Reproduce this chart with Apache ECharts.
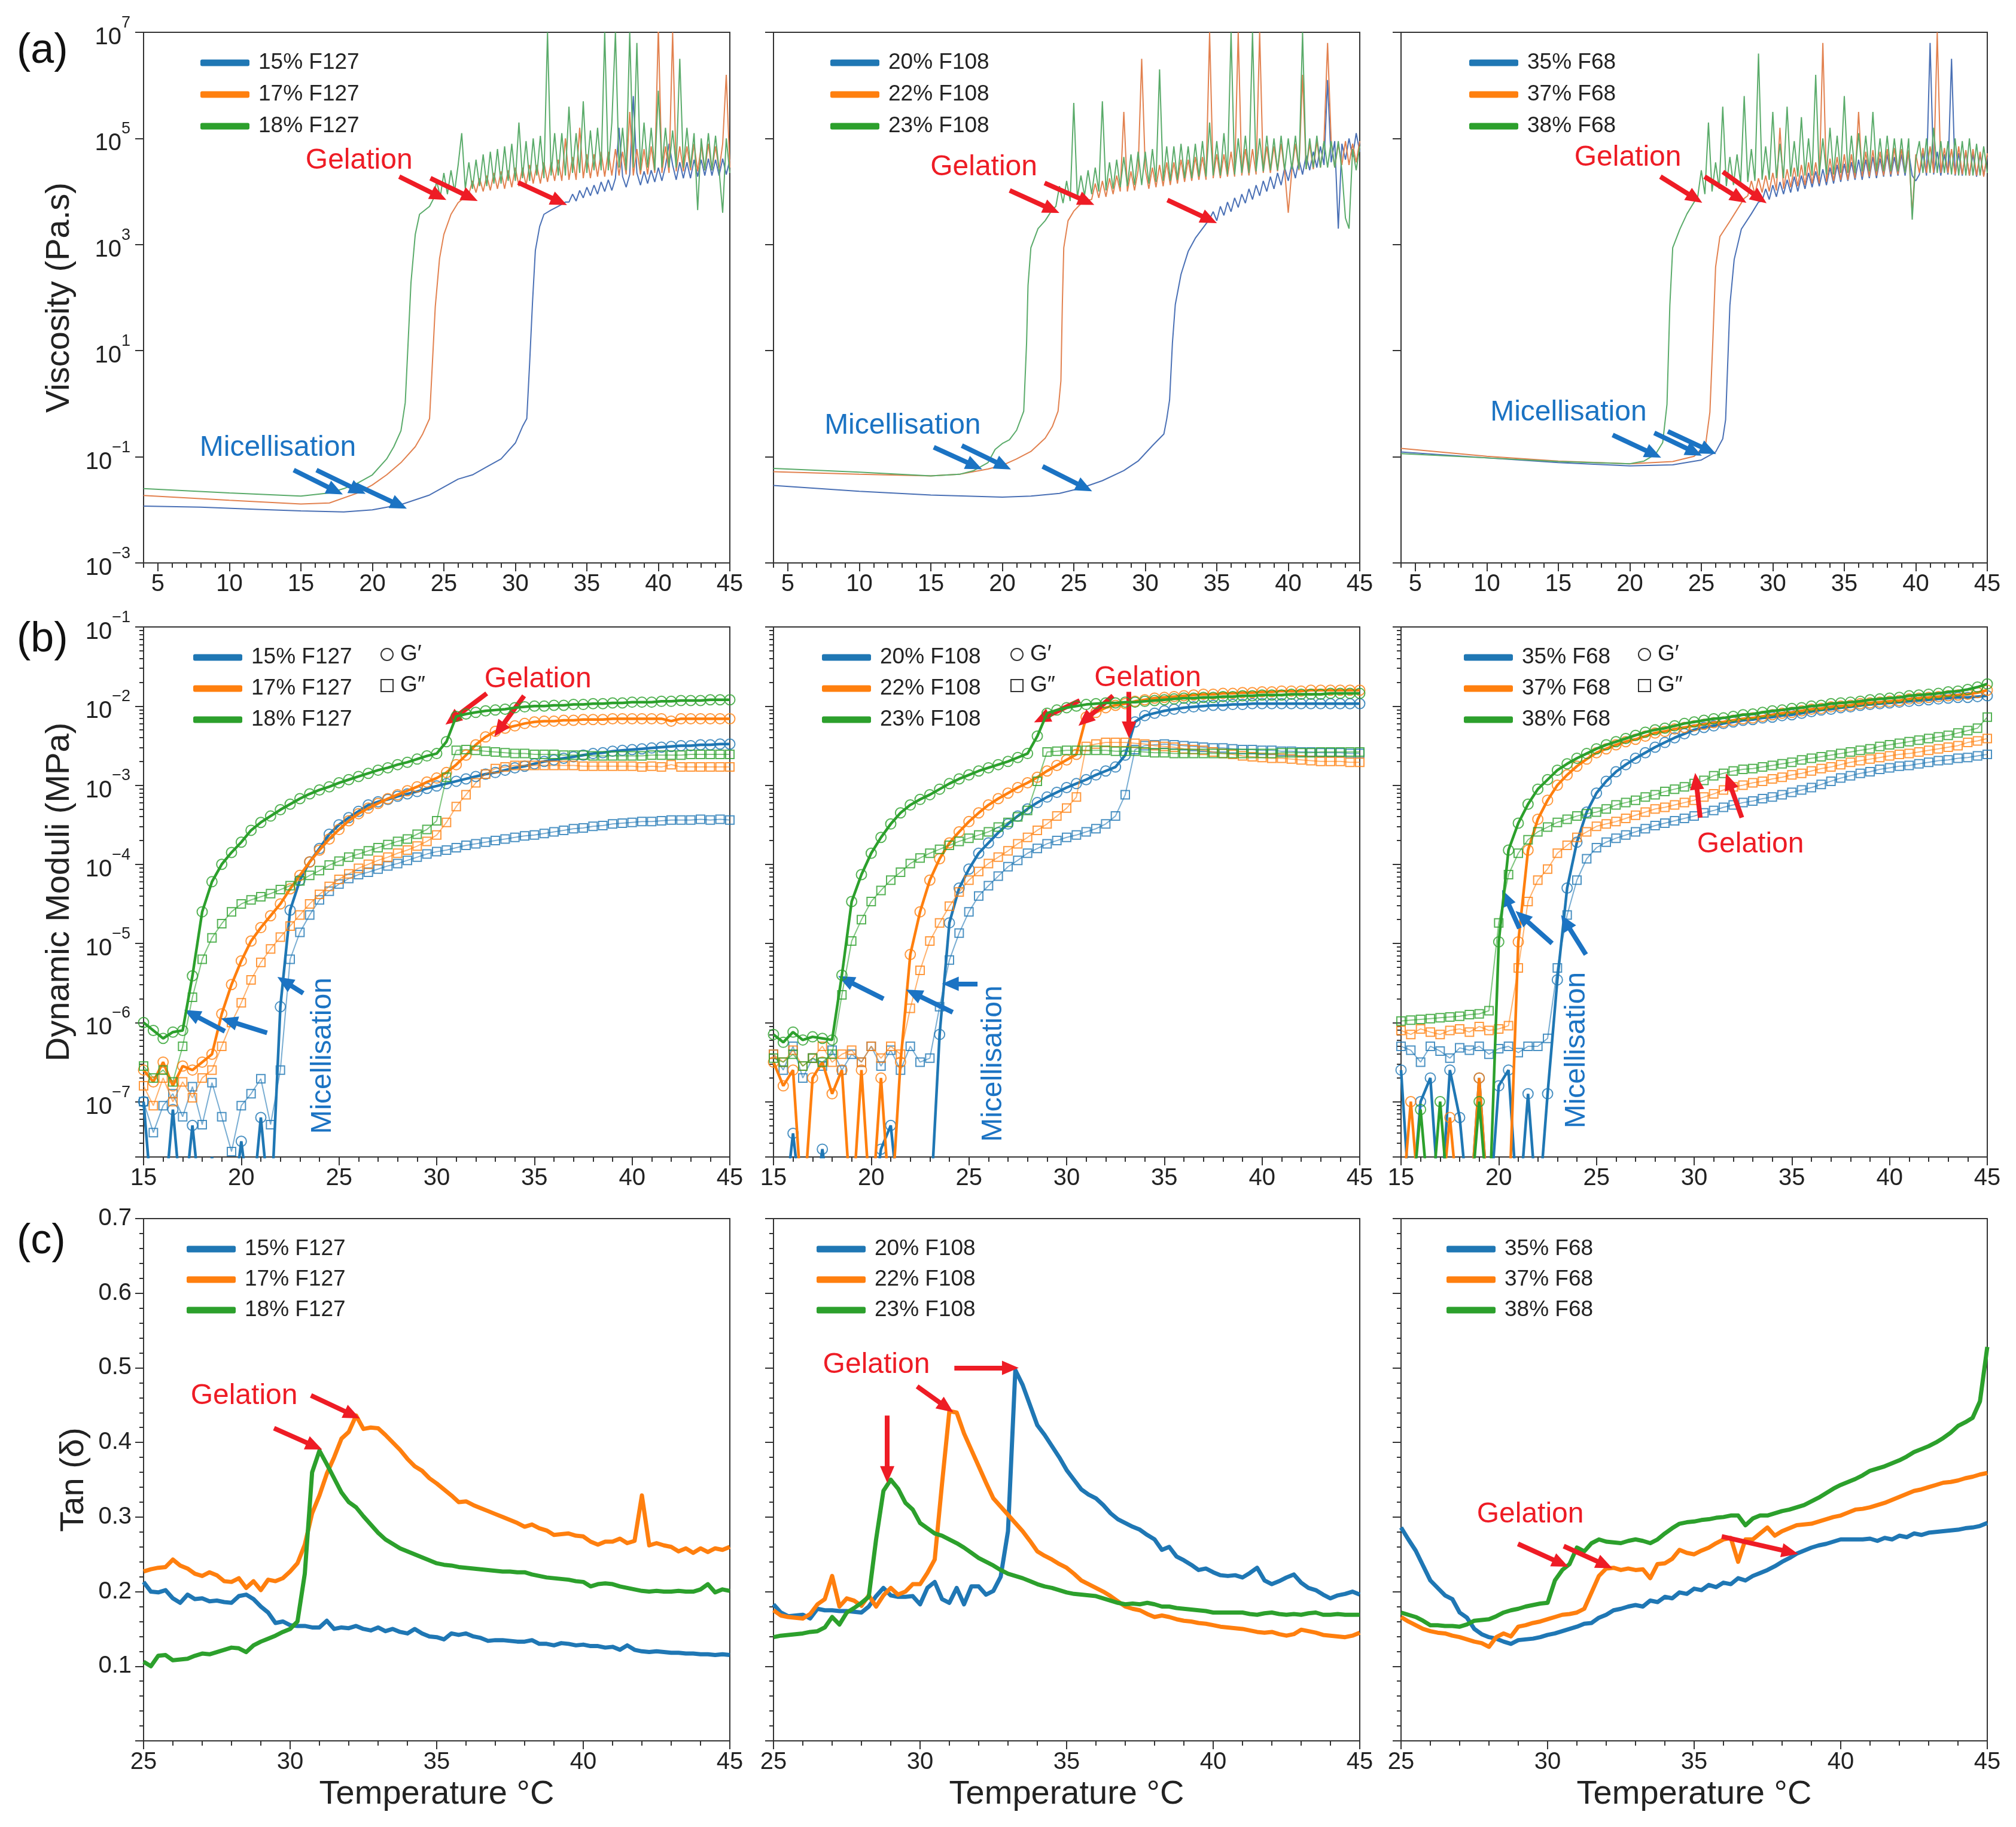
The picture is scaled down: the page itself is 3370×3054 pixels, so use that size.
<!DOCTYPE html>
<html lang="en">
<head>
<meta charset="UTF-8"/>
<script src="https://cdn.jsdelivr.net/npm/echarts@6.0.0/dist/echarts.min.js"></script>
<title>Pluronic gels: viscosity, moduli, tan delta</title>
<style>html,body{margin:0;padding:0;background:#fff;}</style>
</head>
<body>
<div id="main" style="width:3370px;height:3054px;"></div>
<script type="text/javascript">
// ---------- (a) viscosity, values are log10(Pa.s) ----------
// smooth part as [T, log10] pairs, then the noisy gel plateau, one value every 0.25 °C after the last pair
var vis15F127 = [[4,-1.93],[8,-1.95],[12,-1.99],[15,-2.02],[18,-2.04],[20,-2.0],[22,-1.9],[24,-1.72],[26,-1.42],[27,-1.34],[28,-1.19],[29,-1.04],[30,-0.74],[30.5,-0.43],[30.8,-0.28],[31,0.77],[31.2,1.91],[31.4,2.89],[31.7,3.34],[32,3.57],[32.5,3.65],[33,3.72],[33.5,3.8]];
var vis15F127Gel = [3.8,3.95,3.82,4.02,3.88,4.08,3.92,4.12,3.95,4.18, 4.0,4.22,4.02,4.25,5.2,4.28,4.08,4.32,5.8,4.35, 4.12,4.38,4.15,4.4,4.18,4.45,4.2,4.48,4.9,4.5, 4.22,4.55,4.25,4.55,4.25,4.6,4.28,4.6,4.3,4.62, 4.3,4.6,4.3,4.62,4.32,4.6];
var vis17F127 = [[4,-1.73],[10,-1.82],[15,-1.89],[17,-1.87],[19,-1.68],[20,-1.53],[21,-1.34],[22,-1.11],[23,-0.81],[23.5,-0.58],[24,-0.28],[24.2,0.77],[24.4,1.83],[24.7,2.74],[25,3.19],[25.5,3.57],[26,3.79],[26.5,3.9]];
var vis17F127Gel = [3.95,4.2,3.98,4.25,4.0,4.3,4.02,4.35,4.05,4.38, 4.05,4.4,4.08,4.45,4.1,4.45,4.12,4.5,4.15,4.5, 4.15,4.55,4.18,4.55,4.2,4.6,4.2,5.0,4.22,4.65, 4.22,5.2,4.25,4.7,4.25,4.7,4.28,4.75,4.28,4.75, 4.3,4.8,4.3,4.75,4.32,5.5,4.3,4.8,4.32,4.8, 4.32,4.85,4.35,7.1,4.35,4.85,4.35,7.0,4.38,4.85, 4.38,4.85,4.4,4.9,4.38,4.85,4.4,4.9,4.4,4.85, 4.4,4.9,6.2,4.45];
var vis18F127 = [[4,-1.6],[10,-1.68],[15,-1.74],[17,-1.68],[18,-1.6],[19,-1.49],[20,-1.34],[21,-1.04],[21.5,-0.81],[22,-0.51],[22.3,0.02],[22.5,1.15],[22.7,2.28],[23,3.19],[23.3,3.57],[24,3.72]];
var vis18F127Gel = [3.85,4.2,3.9,4.35,3.95,4.4,4.0,4.5,5.1,4.05, 4.55,4.05,4.6,4.1,4.7,4.1,4.75,4.15,4.8,4.15, 4.85,4.2,4.9,4.2,5.3,4.25,4.95,4.2,5.0,4.3, 5.05,4.25,7.0,4.3,5.1,4.3,5.1,4.3,5.6,4.35, 5.1,4.35,5.7,4.35,5.15,4.4,5.2,4.4,7.0,4.4, 5.3,7.0,4.45,5.2,4.4,7.0,4.45,6.8,4.4,5.3, 4.45,5.2,4.4,5.9,4.45,5.2,4.45,5.15,4.45,6.5, 4.45,5.2,4.45,5.1,3.65,5.0,4.4,5.1,4.4,5.05, 4.4,3.6,5.0,4.35];

var vis20F108 = [[4,-1.54],[10,-1.65],[15,-1.72],[20,-1.76],[22,-1.74],[24,-1.69],[25.5,-1.59],[27,-1.45],[28.5,-1.26],[29.5,-1.08],[30.5,-0.79],[31.3,-0.57],[31.5,-0.29],[31.7,0.07],[31.9,1.15],[32.1,1.87],[32.5,2.44],[33,2.87],[33.5,3.12],[34,3.3],[34.5,3.48]];
var vis20F108Gel = [3.62,3.45,3.72,3.55,3.8,3.62,3.88,3.7,3.95,3.78, 4.05,3.85,4.12,3.92,4.2,4.0,4.28,4.05,4.35,4.12, 4.45,4.2,4.52,4.25,4.6,4.32,4.68,4.4,4.75,4.45, 4.85,4.5,6.1,4.55,4.95,3.3,4.9,4.6,5.0,4.65, 5.1,4.75];
var vis22F108 = [[4,-1.28],[10,-1.33],[15,-1.36],[17,-1.33],[19,-1.23],[20,-1.16],[21,-1.04],[22,-0.9],[23,-0.65],[23.5,-0.43],[23.9,-0.14],[24.1,0.43],[24.2,1.87],[24.3,2.94],[24.6,3.45],[25,3.63],[25.5,3.77],[26,3.84]];
var vis22F108Gel = [3.85,4.15,3.88,4.2,3.9,4.25,3.95,4.3,4.0,5.5, 4.0,4.38,4.02,4.4,6.5,4.42,4.05,4.45,4.08,4.5, 4.1,4.55,4.12,4.55,4.15,4.6,4.18,4.6,4.2,4.65, 4.22,4.65,4.22,7.0,4.25,4.7,4.25,4.7,4.28,4.75, 4.28,7.0,4.3,4.8,4.3,4.8,4.32,7.0,4.35,4.85, 4.35,4.85,4.38,4.9,4.38,3.6,4.4,4.9,4.4,6.2, 4.42,4.9,4.42,4.95,4.45,4.95,6.8,4.95,4.45,4.9, 4.5,4.95,4.5,4.9,4.55,4.95];
var vis23F108 = [[4,-1.22],[10,-1.29],[15,-1.36],[17,-1.33],[18,-1.26],[19,-1.11],[19.5,-0.86],[20,-0.75],[20.5,-0.68],[21,-0.5],[21.5,-0.14],[21.7,1.15],[21.8,2.23],[22,2.94],[22.5,3.3],[23,3.45],[23.5,3.66]];
var vis23F108Gel = [3.72,4.1,3.78,4.2,3.82,5.67,3.88,4.3,3.92,4.4, 3.95,4.45,4.0,5.7,4.02,4.55,4.05,4.6,4.08,4.65, 4.1,4.7,4.12,4.75,4.12,4.75,4.15,4.8,4.18,6.3, 4.2,4.85,4.2,4.85,4.22,4.9,4.25,4.85,4.25,4.9, 4.28,4.95,4.28,5.3,4.3,4.95,4.3,5.1,4.32,7.0, 4.32,5.0,4.35,5.05,4.35,7.0,4.38,5.0,4.38,5.05, 4.4,5.0,4.4,5.05,4.4,5.0,4.42,5.05,4.42,7.0, 4.42,5.0,4.45,5.05,4.45,4.95,4.45,4.95,4.45,4.95, 4.4,3.5,3.3,4.8,4.4,4.85];

var vis35F68 = [[4,-0.91],[10,-1.02],[15,-1.11],[20,-1.17],[23,-1.15],[25,-1.06],[26,-0.91],[26.5,-0.66],[26.7,-0.3],[26.8,0.42],[27,1.86],[27.3,2.72],[27.8,3.29],[28.5,3.58],[29,3.8]];
var vis35F68Gel = [3.82,4.05,3.85,4.12,3.9,4.18,3.95,4.22,3.98,4.28, 4.0,4.3,4.05,4.35,4.08,4.38,4.1,4.42,4.12,4.45, 4.15,4.5,4.18,4.52,4.2,4.55,4.22,4.6,4.22,4.6, 4.25,4.65,4.25,4.62,4.28,4.7,4.28,4.65,4.3,4.7, 4.3,4.75,4.3,4.2,4.32,4.72,4.3,6.8,4.32,4.75, 4.3,4.7,4.32,6.5,4.3,4.72,4.3,4.75,4.3,4.7, 4.28,4.7,4.3,4.65];
var vis37F68 = [[4,-0.84],[10,-0.99],[15,-1.08],[20,-1.13],[23,-1.09],[24.5,-0.99],[25.3,-0.77],[25.6,-0.16],[25.8,1.14],[26,2.58],[26.3,3.15],[27,3.44],[28,3.87]];
var vis37F68Gel = [3.92,4.2,3.95,4.25,3.98,4.3,4.0,4.35,4.02,5.2, 4.05,4.42,4.08,4.45,4.1,4.5,4.12,4.55,4.15,4.55, 4.15,6.8,4.18,4.62,4.2,4.65,4.22,4.7,4.22,4.7, 4.25,5.5,4.28,4.75,4.28,4.78,4.3,4.75,4.3,4.8, 4.32,4.82,4.32,4.8,4.35,4.78,3.58,4.7,4.35,4.82, 4.35,4.85,4.35,7.0,4.35,4.82,4.35,4.8,4.32,4.85, 4.32,4.78,4.3,4.8,4.3,4.75,4.28,4.72];
var vis38F68 = [[4,-0.94],[10,-1.02],[15,-1.09],[20,-1.13],[21,-1.08],[21.8,-0.95],[22.3,-0.73],[22.6,-0.01],[22.8,1.86],[23,2.94],[23.5,3.29],[24,3.58],[24.5,3.8]];
var vis38F68Gel = [3.9,4.4,3.95,5.3,4.0,4.55,4.05,5.6,4.1,4.65, 4.12,4.7,4.15,5.8,4.18,4.8,4.2,6.6,4.22,4.85, 4.22,5.5,4.25,4.9,4.25,5.6,4.28,4.95,4.28,5.4, 4.3,5.0,4.3,6.2,4.3,5.0,4.32,5.2,4.32,5.05, 4.35,5.8,4.35,5.05,4.35,5.1,4.38,5.05,4.38,5.5, 4.38,5.0,4.38,5.05,4.38,5.0,4.38,5.0,4.35,5.0, 3.47,4.6,4.95,4.35,5.0,4.35,5.2,4.35,4.95,4.35, 4.95,4.32,5.0,4.3,4.95,4.3,5.0,4.3,4.9,4.3, 4.85,4.35];

// ---------- (b) dynamic moduli, values are log10(MPa), sampled at tempB ----------
var tempB = [15,15.5,16,16.5,17,17.5,18,18.5,19,19.5,20,20.5,21,21.5,22,22.5,23,23.5,24,24.5,25,25.5,26,26.5,27,27.5,28,28.5,29,29.5,30,30.5,31,31.5,32,32.5,33,33.5,34,34.5,35,35.5,36,36.5,37,37.5,38,38.5,39,39.5,40,40.5,41,41.5,42,42.5,43,43.5,44,44.5,45];
var gp15F127 = [-7.0,-8.5,-8.5,-7.1,-8.5,-7.3,-8.5,-7.7, -8.5,-8.5,-7.5,-8.5,-7.2,-8.5,-5.8,-4.58,-4.2,-3.97, -3.8,-3.62,-3.5,-3.41,-3.33,-3.25,-3.21,-3.18,-3.14,-3.11, -3.08,-3.04,-3.01,-2.98,-2.95,-2.92,-2.89,-2.86,-2.84,-2.81, -2.78,-2.76,-2.73,-2.7,-2.68,-2.66,-2.64,-2.62,-2.6,-2.59, -2.57,-2.56,-2.55,-2.54,-2.53,-2.52,-2.51,-2.5,-2.5,-2.49, -2.49,-2.48,-2.48];
var gpp15F127 = [-7.0,-7.39,-7.05,-6.9,-7.19,-6.81,-7.29,-6.76, -7.19,-7.63,-7.05,-6.9,-6.71,-7.29,-6.6,-5.2,-4.86,-4.64, -4.45,-4.34,-4.25,-4.18,-4.13,-4.1,-4.06,-4.02,-3.99,-3.95, -3.91,-3.87,-3.84,-3.82,-3.79,-3.76,-3.74,-3.72,-3.7,-3.68, -3.66,-3.64,-3.63,-3.61,-3.59,-3.57,-3.55,-3.54,-3.52,-3.51, -3.49,-3.48,-3.47,-3.46,-3.46,-3.45,-3.44,-3.44,-3.44,-3.43, -3.44,-3.43,-3.44];
var gp17F127 = [-6.6,-6.75,-6.5,-6.8,-6.55,-6.6,-6.5,-6.4, -5.89,-5.52,-5.22,-4.97,-4.8,-4.65,-4.5,-4.31,-4.14,-3.97, -3.82,-3.68,-3.56,-3.45,-3.36,-3.29,-3.23,-3.17,-3.12,-3.07, -3.02,-2.96,-2.91,-2.84,-2.74,-2.62,-2.49,-2.39,-2.32,-2.28, -2.25,-2.22,-2.2,-2.19,-2.19,-2.18,-2.18,-2.17,-2.17,-2.17, -2.16,-2.16,-2.16,-2.16,-2.16,-2.16,-2.19,-2.16,-2.16,-2.16, -2.16,-2.16,-2.16];
var gpp17F127 = [-6.8,-7.05,-6.7,-7.0,-6.75,-6.95,-6.7,-6.6, -6.3,-6.0,-5.75,-5.46,-5.24,-5.07,-4.92,-4.78,-4.64,-4.5, -4.38,-4.28,-4.19,-4.12,-4.05,-4.0,-3.95,-3.91,-3.86,-3.82, -3.77,-3.71,-3.63,-3.47,-3.27,-3.12,-2.97,-2.86,-2.79,-2.77, -2.75,-2.75,-2.75,-2.75,-2.75,-2.75,-2.75,-2.76,-2.76,-2.76, -2.76,-2.76,-2.76,-2.77,-2.76,-2.77,-2.74,-2.77,-2.77,-2.77, -2.77,-2.77,-2.77];
var gp18F127 = [-6.0,-6.1,-6.2,-6.12,-6.1,-5.41,-4.6,-4.22, -4.0,-3.85,-3.72,-3.57,-3.47,-3.39,-3.31,-3.24,-3.17,-3.11, -3.06,-3.02,-2.97,-2.93,-2.89,-2.85,-2.81,-2.78,-2.74,-2.71, -2.67,-2.63,-2.6,-2.45,-2.13,-2.1,-2.08,-2.06,-2.05,-2.04, -2.02,-2.01,-2.0,-2.0,-1.99,-1.99,-1.98,-1.98,-1.97,-1.97, -1.96,-1.96,-1.95,-1.95,-1.95,-1.94,-1.94,-1.93,-1.93,-1.93, -1.92,-1.92,-1.92];
var gpp18F127 = [-6.55,-6.7,-6.6,-6.75,-6.3,-5.68,-5.2,-4.93, -4.75,-4.6,-4.5,-4.45,-4.41,-4.37,-4.32,-4.27,-4.21,-4.14, -4.08,-4.01,-3.96,-3.91,-3.87,-3.83,-3.79,-3.75,-3.71,-3.68, -3.62,-3.56,-3.45,-2.9,-2.56,-2.55,-2.56,-2.57,-2.58,-2.59, -2.6,-2.6,-2.61,-2.61,-2.61,-2.62,-2.62,-2.62,-2.63,-2.63, -2.63,-2.63,-2.63,-2.63,-2.62,-2.62,-2.62,-2.62,-2.61,-2.61, -2.61,-2.61,-2.61];

var gp20F108 = [-8.5,-8.5,-7.4,-8.5,-8.5,-7.6,-8.5,-8.5, -8.5,-8.5,-8.5,-7.6,-7.3,-8.5,-8.5,-8.5,-8.5,-6.15, -4.74,-4.3,-4.06,-3.86,-3.73,-3.6,-3.49,-3.39,-3.3,-3.22, -3.15,-3.09,-3.03,-2.98,-2.93,-2.87,-2.82,-2.77,-2.62,-2.2, -2.12,-2.09,-2.06,-2.04,-2.02,-2.01,-2.0,-1.99,-1.99,-1.98, -1.98,-1.97,-1.97,-1.97,-1.97,-1.97,-1.97,-1.97,-1.97,-1.97, -1.97,-1.97,-1.97];
var gpp20F108 = [-6.4,-6.6,-6.3,-6.7,-6.45,-6.55,-6.35,-6.6, -6.4,-6.5,-6.3,-6.55,-6.35,-6.6,-6.3,-6.5,-6.45,-5.8, -5.21,-4.87,-4.6,-4.4,-4.27,-4.15,-4.03,-3.95,-3.86,-3.8, -3.74,-3.7,-3.66,-3.63,-3.59,-3.55,-3.49,-3.39,-3.12,-2.55, -2.5,-2.49,-2.48,-2.49,-2.5,-2.51,-2.52,-2.53,-2.53,-2.54, -2.55,-2.55,-2.56,-2.56,-2.57,-2.57,-2.58,-2.58,-2.59,-2.59, -2.59,-2.6,-2.6];
var gp22F108 = [-6.5,-6.8,-6.6,-8.5,-6.7,-6.5,-6.9,-6.6, -8.5,-6.6,-8.5,-6.7,-8.5,-6.5,-5.14,-4.6,-4.2,-3.93, -3.73,-3.59,-3.46,-3.35,-3.25,-3.17,-3.1,-3.03,-2.97,-2.9, -2.82,-2.75,-2.68,-2.61,-2.14,-2.08,-2.02,-1.99,-1.97,-1.94, -1.92,-1.9,-1.89,-1.88,-1.87,-1.86,-1.85,-1.85,-1.84,-1.84, -1.83,-1.83,-1.82,-1.82,-1.81,-1.81,-1.81,-1.8,-1.8,-1.8, -1.8,-1.8,-1.8];
var gpp22F108 = [-6.4,-6.5,-6.35,-6.55,-6.45,-6.3,-6.5,-6.4, -6.35,-6.5,-6.3,-6.45,-6.3,-6.4,-5.82,-5.34,-4.97,-4.74, -4.53,-4.35,-4.2,-4.09,-3.99,-3.91,-3.83,-3.74,-3.66,-3.57, -3.49,-3.39,-3.29,-3.15,-2.51,-2.48,-2.46,-2.46,-2.46,-2.47, -2.48,-2.5,-2.51,-2.52,-2.54,-2.55,-2.56,-2.58,-2.6,-2.61, -2.63,-2.64,-2.65,-2.66,-2.66,-2.67,-2.68,-2.69,-2.7,-2.7, -2.7,-2.71,-2.71];
var gp23F108 = [-6.15,-6.25,-6.12,-6.22,-6.18,-6.2,-6.22,-5.4, -4.47,-4.13,-3.86,-3.66,-3.49,-3.35,-3.25,-3.18,-3.12,-3.05, -2.98,-2.92,-2.87,-2.82,-2.78,-2.74,-2.7,-2.65,-2.6,-2.38, -2.09,-2.05,-2.02,-2.0,-1.98,-1.97,-1.96,-1.96,-1.95,-1.95, -1.94,-1.93,-1.92,-1.91,-1.9,-1.9,-1.89,-1.89,-1.88,-1.88, -1.87,-1.87,-1.86,-1.86,-1.86,-1.85,-1.85,-1.85,-1.85,-1.84, -1.84,-1.84,-1.84];
var gpp23F108 = [-6.45,-6.5,-6.4,-6.55,-6.45,-6.5,-6.4,-5.65, -4.97,-4.7,-4.47,-4.33,-4.2,-4.1,-3.99,-3.92,-3.86,-3.81, -3.76,-3.71,-3.67,-3.63,-3.59,-3.53,-3.47,-3.4,-3.32,-2.95, -2.58,-2.57,-2.56,-2.56,-2.56,-2.56,-2.56,-2.57,-2.57,-2.57, -2.58,-2.59,-2.59,-2.6,-2.6,-2.6,-2.6,-2.6,-2.6,-2.6, -2.6,-2.6,-2.6,-2.6,-2.59,-2.59,-2.59,-2.59,-2.58,-2.58, -2.58,-2.58,-2.58];

var gp35F68 = [-6.6,-8.5,-7.0,-6.7,-8.5,-6.6,-7.2,-8.5, -6.7,-8.5,-6.8,-6.6,-8.5,-6.9,-8.5,-6.9,-5.46,-4.3, -3.72,-3.34,-3.1,-2.95,-2.83,-2.74,-2.66,-2.59,-2.52,-2.46, -2.4,-2.35,-2.3,-2.27,-2.25,-2.22,-2.2,-2.18,-2.17,-2.15, -2.14,-2.12,-2.11,-2.09,-2.07,-2.05,-2.04,-2.02,-2.01,-1.99, -1.98,-1.97,-1.96,-1.95,-1.94,-1.93,-1.92,-1.91,-1.9,-1.89, -1.89,-1.88,-1.87];
var gpp35F68 = [-6.3,-6.35,-6.5,-6.3,-6.36,-6.45,-6.32,-6.35, -6.3,-6.4,-6.33,-6.3,-6.38,-6.3,-6.3,-6.2,-5.31,-4.64, -4.2,-3.93,-3.79,-3.72,-3.67,-3.63,-3.59,-3.55,-3.51,-3.48, -3.45,-3.42,-3.39,-3.35,-3.32,-3.28,-3.25,-3.22,-3.2,-3.17, -3.15,-3.12,-3.09,-3.06,-3.03,-2.99,-2.95,-2.91,-2.88,-2.85, -2.83,-2.8,-2.78,-2.76,-2.75,-2.73,-2.71,-2.69,-2.68,-2.66, -2.65,-2.63,-2.61];
var gp37F68 = [-8.5,-7.0,-8.5,-8.5,-8.5,-7.2,-8.5,-8.5, -6.7,-8.5,-8.5,-8.5,-4.98,-3.82,-3.43,-3.19,-3.0,-2.87, -2.76,-2.67,-2.59,-2.54,-2.49,-2.45,-2.42,-2.38,-2.34,-2.32, -2.29,-2.27,-2.25,-2.23,-2.21,-2.2,-2.18,-2.16,-2.15,-2.13, -2.11,-2.09,-2.08,-2.06,-2.04,-2.03,-2.01,-2.0,-1.99,-1.97, -1.96,-1.95,-1.94,-1.93,-1.91,-1.9,-1.89,-1.88,-1.87,-1.86, -1.85,-1.83,-1.8];
var gpp37F68 = [-6.1,-6.15,-6.08,-6.12,-6.15,-6.1,-6.08,-6.12, -6.05,-6.1,-6.08,-6.04,-5.31,-4.47,-4.2,-4.06,-3.86,-3.76, -3.66,-3.59,-3.52,-3.49,-3.46,-3.42,-3.38,-3.34,-3.3,-3.28, -3.25,-3.22,-3.19,-3.15,-3.11,-3.06,-3.02,-3.0,-2.97,-2.95, -2.92,-2.9,-2.87,-2.85,-2.82,-2.79,-2.77,-2.74,-2.71,-2.69, -2.67,-2.65,-2.63,-2.61,-2.6,-2.58,-2.56,-2.54,-2.52,-2.5, -2.46,-2.44,-2.41];
var gp38F68 = [-8.5,-8.5,-7.1,-8.5,-7.0,-8.5,-8.5,-8.5, -7.0,-8.5,-4.98,-3.82,-3.48,-3.24,-3.05,-2.93,-2.81,-2.73, -2.66,-2.6,-2.54,-2.49,-2.45,-2.41,-2.37,-2.33,-2.3,-2.28, -2.25,-2.22,-2.2,-2.18,-2.16,-2.15,-2.13,-2.11,-2.1,-2.08, -2.06,-2.05,-2.03,-2.02,-2.0,-1.99,-1.97,-1.96,-1.95,-1.94, -1.92,-1.91,-1.9,-1.89,-1.87,-1.86,-1.85,-1.84,-1.82,-1.81, -1.79,-1.76,-1.72];
var gpp38F68 = [-5.98,-5.97,-5.96,-5.95,-5.94,-5.93,-5.92,-5.9, -5.89,-5.85,-4.74,-4.13,-3.86,-3.69,-3.59,-3.53,-3.47,-3.43, -3.39,-3.36,-3.34,-3.3,-3.25,-3.22,-3.19,-3.15,-3.12,-3.08, -3.05,-3.02,-2.98,-2.94,-2.88,-2.85,-2.82,-2.8,-2.79,-2.77, -2.75,-2.73,-2.71,-2.68,-2.66,-2.64,-2.62,-2.6,-2.58,-2.56, -2.54,-2.51,-2.49,-2.47,-2.45,-2.43,-2.41,-2.39,-2.37,-2.34, -2.31,-2.28,-2.14];

// ---------- (c) tan(delta), sampled at tempC ----------
var tempC = [25,25.25,25.5,25.75,26,26.25,26.5,26.75,27,27.25,27.5,27.75,28,28.25,28.5,28.75,29,29.25,29.5,29.75,30,30.25,30.5,30.75,31,31.25,31.5,31.75,32,32.25,32.5,32.75,33,33.25,33.5,33.75,34,34.25,34.5,34.75,35,35.25,35.5,35.75,36,36.25,36.5,36.75,37,37.25,37.5,37.75,38,38.25,38.5,38.75,39,39.25,39.5,39.75,40,40.25,40.5,40.75,41,41.25,41.5,41.75,42,42.25,42.5,42.75,43,43.25,43.5,43.75,44,44.25,44.5,44.75,45];
var tan15F127 = [.213,.2,.199,.202,.191,.185,.196,.19, .191,.187,.188,.186,.185,.194,.196,.19, .18,.172,.158,.16,.155,.154,.154,.152, .152,.161,.15,.152,.151,.154,.15,.148, .152,.147,.15,.146,.144,.15,.144,.14, .139,.136,.144,.142,.144,.14,.138,.134, .135,.135,.134,.133,.133,.135,.13,.13, .128,.131,.13,.128,.129,.127,.127,.125, .126,.122,.128,.122,.12,.119,.12,.119, .118,.118,.117,.117,.116,.116,.115,.116, .115];
var tan17F127 = [.227,.23,.232,.233,.243,.235,.231,.224, .221,.226,.222,.214,.213,.218,.205,.214, .202,.216,.214,.218,.227,.238,.263,.305, .329,.358,.38,.405,.414,.436,.418,.42, .419,.41,.4,.39,.378,.368,.362,.352, .345,.337,.329,.32,.321,.316,.312,.308, .304,.3,.296,.292,.287,.29,.285,.282, .276,.277,.278,.275,.274,.267,.263,.267, .267,.271,.265,.268,.329,.262,.265,.262, .26,.254,.258,.252,.258,.253,.258,.256, .26];
var tan18F127 = [.106,.1,.114,.115,.108,.109,.11,.114, .117,.116,.119,.122,.125,.124,.119,.128, .133,.137,.141,.146,.15,.16,.224,.36, .389,.371,.352,.333,.32,.313,.301,.29, .279,.27,.264,.258,.254,.25,.246,.242, .238,.236,.235,.233,.232,.231,.23,.229, .228,.227,.227,.226,.226,.223,.221,.219, .218,.217,.216,.214,.213,.207,.21,.211, .21,.207,.205,.203,.201,.2,.201,.2, .2,.201,.2,.2,.203,.21,.199,.203, .201];
var tan20F108 = [.183,.172,.167,.168,.169,.164,.177,.175, .175,.174,.174,.173,.172,.18,.194,.205, .195,.193,.193,.194,.183,.205,.213,.19, .185,.205,.183,.207,.207,.196,.201,.22, .281,.497,.477,.45,.423,.41,.395,.38, .363,.35,.337,.33,.325,.316,.305,.297, .292,.287,.283,.276,.27,.256,.26,.247, .242,.236,.229,.231,.226,.222,.221,.222, .219,.225,.232,.215,.21,.214,.219,.223, .212,.205,.202,.196,.191,.195,.197,.2, .196];
var tan22F108 = [.175,.168,.166,.165,.164,.17,.183,.19, .221,.18,.191,.188,.181,.195,.18,.195, .205,.196,.2,.21,.21,.225,.243,.345, .442,.44,.412,.39,.368,.346,.325,.314, .303,.292,.281,.268,.254,.248,.243,.237, .232,.224,.215,.21,.205,.2,.194,.187, .18,.177,.175,.17,.166,.168,.166,.163, .161,.16,.158,.157,.155,.153,.152,.151, .15,.148,.146,.145,.146,.143,.141,.143, .149,.147,.145,.142,.141,.14,.139,.141, .145];
var tan23F108 = [.139,.141,.142,.143,.144,.146,.147,.152, .166,.156,.172,.178,.185,.193,.27,.335, .35,.338,.319,.31,.292,.285,.278,.275, .27,.265,.259,.252,.245,.24,.235,.229, .224,.221,.218,.214,.21,.207,.205,.202, .199,.197,.196,.195,.194,.191,.188,.185, .183,.184,.183,.185,.183,.18,.18,.178, .177,.176,.175,.174,.172,.172,.172,.172, .172,.17,.169,.171,.172,.17,.169,.17, .169,.171,.172,.169,.169,.17,.169,.169, .169];
var tan35F68 = [.286,.27,.255,.235,.215,.205,.195,.19, .172,.165,.15,.143,.139,.137,.133,.13, .135,.136,.137,.139,.142,.144,.147,.15, .153,.157,.158,.165,.169,.175,.177,.18, .182,.18,.188,.186,.193,.191,.199,.197, .204,.202,.209,.206,.212,.21,.218,.215, .221,.225,.229,.234,.24,.245,.251,.255, .259,.262,.264,.267,.27,.27,.27,.27, .271,.268,.272,.27,.275,.273,.278,.276, .279,.28,.281,.282,.283,.285,.286,.288, .292];
var tan37F68 = [.166,.16,.155,.15,.147,.145,.144,.141, .139,.136,.133,.131,.126,.139,.144,.14, .153,.155,.158,.16,.163,.166,.169,.17, .172,.177,.199,.221,.231,.232,.229,.231, .229,.23,.218,.237,.238,.244,.256,.252, .25,.255,.259,.265,.27,.272,.24,.27, .27,.278,.286,.275,.281,.285,.289,.29, .291,.294,.297,.3,.302,.306,.31,.311, .313,.316,.319,.323,.327,.331,.335,.337, .34,.343,.346,.347,.349,.352,.354,.357, .359];
var tan38F68 = [.172,.169,.166,.161,.155,.155,.154,.154, .153,.156,.161,.162,.163,.167,.172,.175, .177,.18,.182,.184,.185,.215,.229,.237, .259,.254,.265,.27,.267,.266,.265,.268, .27,.268,.265,.27,.278,.285,.291,.293, .294,.296,.297,.299,.3,.302,.302,.289, .298,.302,.302,.305,.308,.31,.313,.316, .321,.326,.332,.338,.343,.347,.351,.356, .362,.365,.368,.372,.376,.381,.387,.391, .395,.4,.406,.413,.422,.427,.433,.455, .528];

// ---------- annotations: arrows [T1, y1, T2, y2, colour] and labels [text, T, y, colour, rotate] ----------
// y is log10 on the log panels
var arrowsA = [
  [[21.88,4.28,24.65,3.91,'r'],[24.06,4.25,26.84,3.89,'r'],[30.2,4.17,33.08,3.81,'r'],[14.5,-1.25,17.41,-1.64,'b'],[16.09,-1.25,19.0,-1.63,'b'],[18.86,-1.53,21.88,-1.91,'b']],
  [[20.52,4.02,23.46,3.66,'r'],[22.96,4.16,25.9,3.81,'r'],[31.55,3.84,34.48,3.47,'r'],[15.21,-0.82,18.06,-1.17,'b'],[17.17,-0.79,20.08,-1.17,'b'],[22.82,-1.18,25.76,-1.58,'b']],
  [[22.14,4.28,24.57,3.87,'r'],[25.23,4.28,27.66,3.87,'r'],[26.51,4.37,29.09,3.87,'r'],[18.8,-0.59,21.66,-0.95,'b'],[21.71,-0.55,24.51,-0.91,'b'],[22.66,-0.52,25.51,-0.88,'b']]
];
var labelsA = [
  [['Gelation',19.07,4.58,'r'],['Micellisation',13.39,-0.83,'b']],
  [['Gelation',18.71,4.45,'r'],['Micellisation',13.03,-0.42,'b']],
  [['Gelation',19.86,4.63,'r'],['Micellisation',15.71,-0.17,'b']]
];
var arrowsB = [
  [[32.56,-1.84,30.79,-2.17,'r'],[34.47,-1.87,33.2,-2.3,'r'],[19.16,-6.11,17.46,-5.89,'b'],[21.32,-6.13,19.37,-5.98,'b'],[23.17,-5.63,22.21,-5.48,'b']],
  [[30.67,-1.93,28.72,-2.16,'r'],[32.37,-1.87,30.93,-2.18,'r'],[33.19,-1.82,33.19,-2.3,'r'],[20.63,-5.7,18.69,-5.46,'b'],[24.17,-5.87,22.17,-5.63,'b'],[25.44,-5.51,24.05,-5.51,'b']],
  [[30.31,-3.41,30.1,-2.95,'r'],[32.44,-3.41,31.77,-2.95,'r'],[21.06,-4.81,20.35,-4.42,'b'],[22.73,-5.0,21.18,-4.66,'b'],[24.46,-5.14,23.42,-4.73,'b']]
];
var labelsB = [
  [['Gelation',35.18,-1.66,'r'],['Micellisation',24.19,-6.42,'b',90]],
  [['Gelation',34.15,-1.65,'r'],['Micellisation',26.26,-6.52,'b',90]],
  [['Gelation',32.88,-3.75,'r'],['Micellisation',24.0,-6.35,'b',90]]
];
var arrowsC = [
  [[30.71,0.463,32.12,0.437,'r'],[29.45,0.419,30.83,0.395,'r']],
  [[31.17,0.5,33.08,0.5,'r'],[29.9,0.475,30.9,0.447,'r'],[28.88,0.436,28.88,0.357,'r']],
  [[28.99,0.264,30.45,0.238,'r'],[30.55,0.261,31.95,0.236,'r'],[35.94,0.274,38.27,0.253,'r']]
];
var labelsC = [
  [['Gelation',28.43,0.462,'r']],
  [['Gelation',28.51,0.504,'r']],
  [['Gelation',29.41,0.303,'r']]
];

var names = [['15% F127','17% F127','18% F127'],['20% F108','22% F108','23% F108'],['35% F68','37% F68','38% F68']];
var viscSets = [
  [[vis15F127, vis15F127Gel],[vis17F127, vis17F127Gel],[vis18F127, vis18F127Gel]],
  [[vis20F108, vis20F108Gel],[vis22F108, vis22F108Gel],[vis23F108, vis23F108Gel]],
  [[vis35F68, vis35F68Gel],[vis37F68, vis37F68Gel],[vis38F68, vis38F68Gel]]
];
var modSets = [
  [[gp15F127, gpp15F127],[gp17F127, gpp17F127],[gp18F127, gpp18F127]],
  [[gp20F108, gpp20F108],[gp22F108, gpp22F108],[gp23F108, gpp23F108]],
  [[gp35F68, gpp35F68],[gp37F68, gpp37F68],[gp38F68, gpp38F68]]
];
var tanSets = [[tan15F127, tan17F127, tan18F127],[tan20F108, tan22F108, tan23F108],[tan35F68, tan37F68, tan38F68]];

// ---------- styling ----------
var TAB = ['#1f77b4', '#ff7f0e', '#2ca02c'];
var MUTED = ['#4a70b5', '#e2814f', '#5aab6a'];
var RED = '#ee1c25', BLUE = '#1b73c3';
var FONT = '"Liberation Sans", Arial, Helvetica, sans-serif';
var INK = '#333';
var gridLeft = [240, 1293, 2342], gridWidth = 980;
var gridTop = [54, 1048, 2037], gridHeight = [887, 886, 873];
var legendLeft = [[90, 90, 109], [78, 76, 100], [67, 67, 71]];
var legendGap = [13, 12, 11];

function p10(v) { return Math.pow(10, v); }
function rgba(hex, a) {
  var n = parseInt(hex.slice(1), 16);
  return 'rgba(' + (n >> 16) + ',' + ((n >> 8) & 255) + ',' + (n & 255) + ',' + a + ')';
}
function zip(xs, ys, f) {
  var out = [];
  for (var i = 0; i < Math.min(xs.length, ys.length); i++) out.push([xs[i], f ? f(ys[i]) : ys[i]]);
  return out;
}
function viscData(base, gel) {
  var d = base.map(function (p) { return [p[0], p10(p[1])]; });
  var t = base[base.length - 1][0];
  gel.forEach(function (v, i) { d.push([t + 0.25 * (i + 1), p10(v)]); });
  return d;
}
function supLabel(v) {
  var e = Math.log10(v), r = Math.round(e);
  if (Math.abs(e - r) > 1e-6) return '';
  return '{b|10}{s|' + (r < 0 ? '\u2212' + (-r) : r) + '}';
}
var supRich = {
  b: { fontSize: 40, fontFamily: FONT, color: '#222', lineHeight: 58, verticalAlign: 'bottom' },
  s: { fontSize: 27, fontFamily: FONT, color: '#222', lineHeight: 27, verticalAlign: 'top' }
};

function notes(idx, arrows, labels, log) {
  var f = log ? p10 : function (v) { return v; };
  return {
    type: 'line', name: 'notes' + idx, xAxisIndex: idx, yAxisIndex: idx, data: [], silent: true, z: 20,
    markLine: {
      silent: true, animation: false, symbol: ['none', 'triangle'], symbolSize: [24, 28],
      label: { show: false }, emphasis: { disabled: true },
      data: arrows.map(function (a) {
        var ls = { color: a[4] === 'r' ? RED : BLUE, width: 8, type: 'solid' };
        return [{ coord: [a[0], f(a[1])], lineStyle: ls }, { coord: [a[2], f(a[3])], lineStyle: ls }];
      })
    },
    markPoint: {
      silent: true, animation: false, symbol: 'rect', symbolSize: 1, itemStyle: { color: 'rgba(0,0,0,0)' },
      data: labels.map(function (t) {
        return {
          coord: [t[1], f(t[2])],
          label: { show: true, position: 'inside', formatter: t[0], color: t[3] === 'r' ? RED : BLUE,
                   fontSize: 48, fontFamily: FONT, rotate: t[4] || 0 }
        };
      })
    }
  };
}

var grids = [], xAxes = [], yAxes = [], series = [], legends = [], graphics = [];
var axisLine = { show: true, lineStyle: { color: INK, width: 2 } };
var tickLine = { color: INK, width: 2 };
var xLabel = { fontSize: 40, color: '#222', fontFamily: FONT, margin: 16 };
var nameStyle = { fontSize: 56, color: '#222', fontFamily: FONT };
var majorA = [5, 10, 15, 20, 25, 30, 35, 40, 45];
var extraX = [];

for (var r = 0; r < 3; r++) {
  for (var c = 0; c < 3; c++) {
    var i = r * 3 + c;
    grids.push({ left: gridLeft[c], top: gridTop[r], width: gridWidth, height: gridHeight[r],
                 show: true, borderColor: INK, borderWidth: 2, backgroundColor: 'rgba(0,0,0,0)' });
    // x axes
    if (r === 0) {
      xAxes.push({ type: 'value', gridIndex: i, position: 'bottom', min: 4, max: 45, interval: 1,
        axisLine: axisLine, axisTick: { length: 8, lineStyle: tickLine },
        axisLabel: Object.assign({}, xLabel, { formatter: function (v) { return v % 5 === 0 ? String(v) : ''; } }),
        splitLine: { show: false } });
      extraX.push({ type: 'value', gridIndex: i, position: 'bottom', min: 4, max: 45,
        axisLine: { show: false }, axisTick: { length: 14, lineStyle: tickLine, customValues: majorA },
        axisLabel: { show: false, customValues: majorA }, splitLine: { show: false } });
    } else {
      var lo = r === 1 ? 15 : 25;
      xAxes.push({ type: 'value', gridIndex: i, position: 'bottom', min: lo, max: 45, interval: 5,
        axisLine: axisLine, axisTick: { length: 14, lineStyle: tickLine },
        minorTick: { show: true, splitNumber: 5, length: 8, lineStyle: tickLine },
        axisLabel: xLabel, splitLine: { show: false },
        name: r === 2 ? 'Temperature \u00b0C' : '', nameLocation: 'middle', nameGap: 62, nameTextStyle: nameStyle });
    }
    // y axes
    if (r === 0) {
      yAxes.push({ type: 'log', logBase: 10, gridIndex: i, min: 1e-3, max: 1e7, interval: 2,
        axisLine: axisLine, axisTick: { length: 14, lineStyle: tickLine },
        axisLabel: { show: c === 0, formatter: supLabel, rich: supRich, margin: 22 },
        splitLine: { show: false },
        name: c === 0 ? 'Viscosity (Pa.s)' : '', nameLocation: 'middle', nameGap: 112, nameTextStyle: nameStyle });
    } else if (r === 1) {
      yAxes.push({ type: 'log', logBase: 10, gridIndex: i, min: 2e-8, max: 0.1,
        axisLine: axisLine, axisTick: { length: 14, lineStyle: tickLine },
        minorTick: { show: true, splitNumber: 9, length: 7, lineStyle: tickLine },
        axisLabel: { show: c === 0, formatter: supLabel, rich: supRich, margin: 22 },
        splitLine: { show: false },
        name: c === 0 ? 'Dynamic Moduli (MPa)' : '', nameLocation: 'middle', nameGap: 112, nameTextStyle: nameStyle });
    } else {
      yAxes.push({ type: 'value', gridIndex: i, min: 0, max: 0.7, interval: 0.1,
        axisLine: axisLine, axisTick: { length: 14, lineStyle: tickLine },
        minorTick: { show: true, splitNumber: 5, length: 7, lineStyle: tickLine },
        axisLabel: { show: c === 0, fontSize: 40, color: '#222', fontFamily: FONT, margin: 20,
                     formatter: function (v) { return v === 0 ? '' : v.toFixed(1); } },
        splitLine: { show: false },
        name: c === 0 ? 'Tan (\u03b4)' : '', nameLocation: 'middle', nameGap: 88, nameTextStyle: nameStyle });
    }
    // series
    for (var k = 0; k < 3; k++) {
      if (r === 0) {
        series.push({ type: 'line', name: names[c][k], xAxisIndex: i, yAxisIndex: i,
          data: viscData(viscSets[c][k][0], viscSets[c][k][1]), symbol: 'none', silent: true,
          lineStyle: { width: 2, color: MUTED[k] }, itemStyle: { color: MUTED[k] }, z: 2 + k });
      } else if (r === 1) {
        series.push({ type: 'line', name: names[c][k], xAxisIndex: i, yAxisIndex: i,
          data: zip(tempB, modSets[c][k][1], p10), symbol: 'rect', symbolSize: 14, showAllSymbol: true, silent: true,
          lineStyle: { width: 2, color: rgba(TAB[k], 0.6) },
          itemStyle: { color: 'rgba(255,255,255,0)', borderColor: rgba(TAB[k], 0.8), borderWidth: 2 }, z: 2 + k });
        series.push({ type: 'line', name: names[c][k], xAxisIndex: i, yAxisIndex: i,
          data: zip(tempB, modSets[c][k][0], p10), symbol: 'circle', symbolSize: 17, showAllSymbol: true, silent: true,
          lineStyle: { width: 4.5, color: TAB[k] },
          itemStyle: { color: 'rgba(255,255,255,0)', borderColor: rgba(TAB[k], 0.8), borderWidth: 2 }, z: 3 + k });
      } else {
        series.push({ type: 'line', name: names[c][k], xAxisIndex: i, yAxisIndex: i,
          data: zip(tempC, tanSets[c][k]), symbol: 'none', silent: true,
          lineStyle: { width: 7, color: TAB[k], join: 'round' }, itemStyle: { color: TAB[k] }, z: 2 + k });
      }
    }
    if (r === 0) series.push(notes(i, arrowsA[c], labelsA[c], true));
    else if (r === 1) series.push(notes(i, arrowsB[c], labelsB[c], true));
    else series.push(notes(i, arrowsC[c], labelsC[c], false));
    // legend
    legends.push({ orient: 'vertical', left: gridLeft[c] + legendLeft[r][c], top: gridTop[r] + 26,
      itemWidth: 82, itemHeight: 11, itemGap: legendGap[r], icon: 'roundRect', selectedMode: false,
      textStyle: { fontSize: 37, color: '#222', fontFamily: FONT, lineHeight: 40, padding: [0, 0, 0, 10] },
      data: names[c].map(function (n, k) { return { name: n, itemStyle: { color: TAB[k] } }; }) });
    // G' / G'' key in the moduli panels
    if (r === 1) {
      var gx = gridLeft[c] + 407, gy = gridTop[r] + 46;
      graphics.push({ type: 'circle', shape: { cx: gx, cy: gy, r: 10 }, style: { fill: 'none', stroke: INK, lineWidth: 2 } });
      graphics.push({ type: 'rect', shape: { x: gx - 10, y: gy + 42, width: 20, height: 20 }, style: { fill: 'none', stroke: INK, lineWidth: 2 } });
      graphics.push({ type: 'text', x: gx + 22, y: gy, style: { text: 'G\u2032', fontSize: 37, fontFamily: FONT, fill: '#222', verticalAlign: 'middle' } });
      graphics.push({ type: 'text', x: gx + 22, y: gy + 52, style: { text: 'G\u2033', fontSize: 37, fontFamily: FONT, fill: '#222', verticalAlign: 'middle' } });
    }
  }
}
xAxes = xAxes.concat(extraX);

['(a)', '(b)', '(c)'].forEach(function (t, r) {
  graphics.push({ type: 'text', x: 28, y: [86, 1070, 2076][r],
    style: { text: t, fontSize: 70, fontFamily: FONT, fill: '#111', verticalAlign: 'middle' } });
});

var myChart = echarts.init(document.getElementById('main'));
var option = {
  backgroundColor: '#ffffff',
  animation: false,
  textStyle: { fontFamily: FONT },
  grid: grids,
  xAxis: xAxes,
  yAxis: yAxes,
  legend: legends,
  graphic: graphics,
  series: series
};
myChart.setOption(option);
</script>
</body>
</html>
